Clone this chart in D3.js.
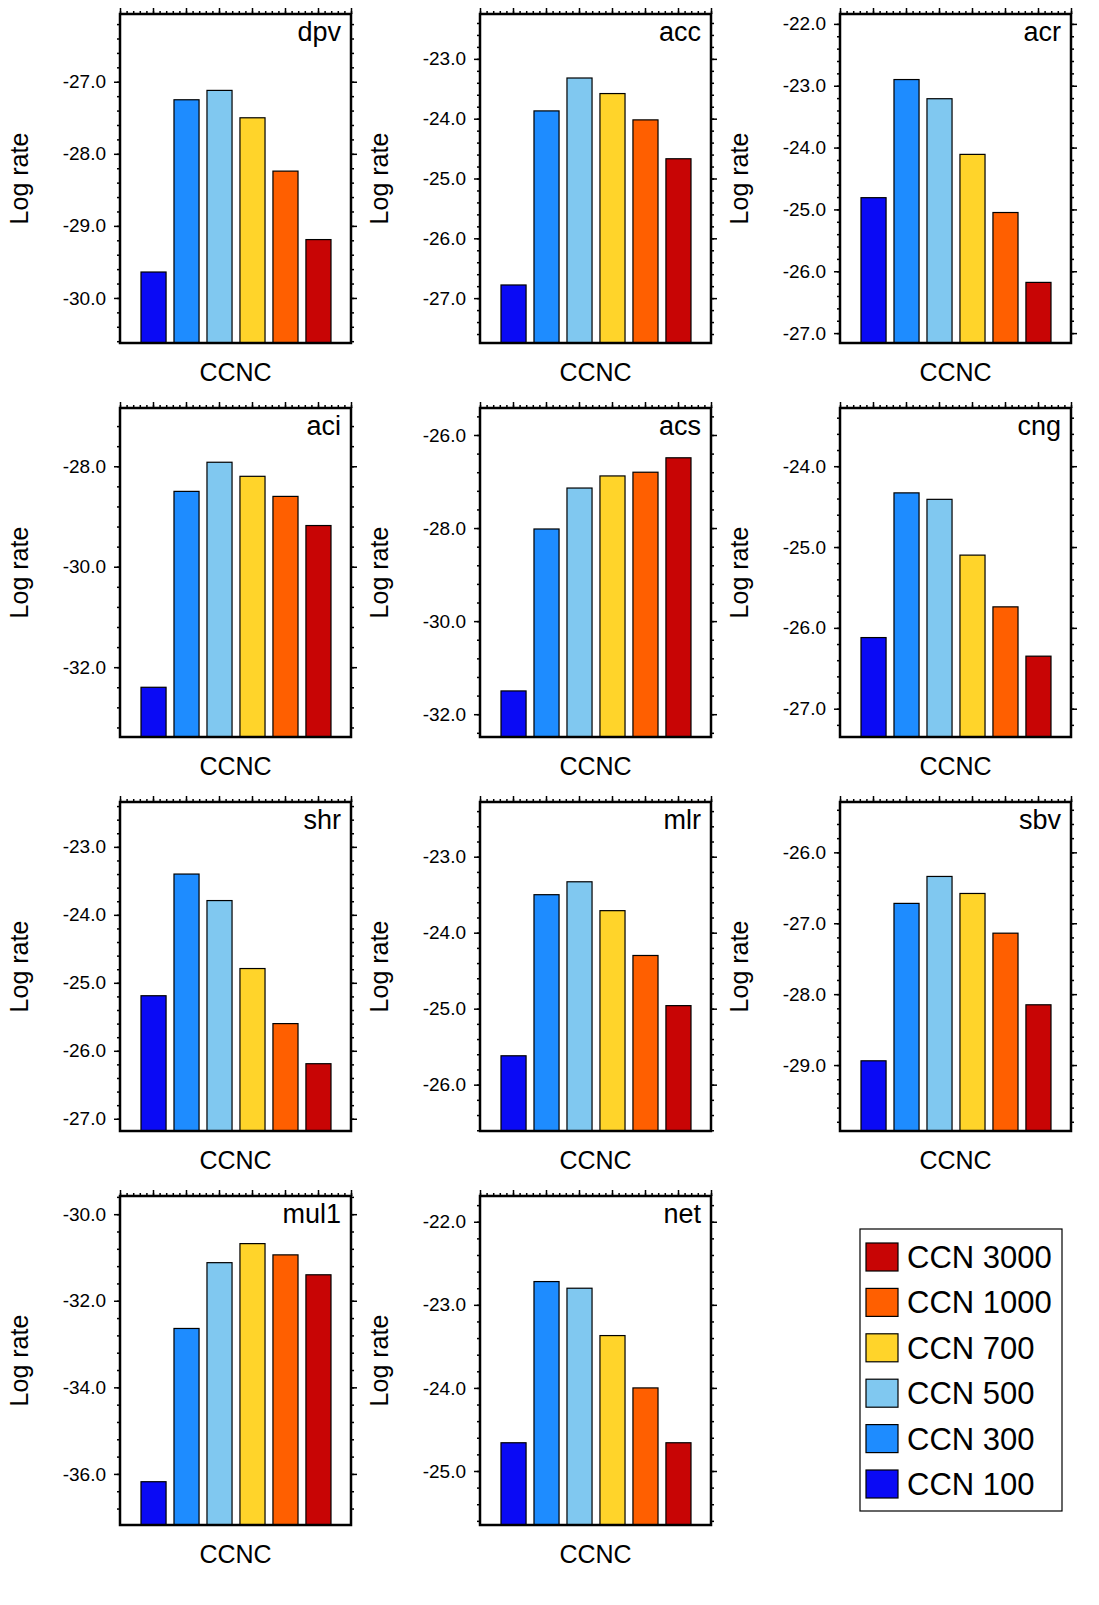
<!DOCTYPE html>
<html><head><meta charset="utf-8">
<script src="https://cdn.jsdelivr.net/npm/d3@7"></script>
<style>body{margin:0;background:#fff}text{font-family:"Liberation Sans",Arial,sans-serif}</style>
</head><body>
<script>
var names = ["dpv", "acc", "acr", "aci", "acs", "cng", "shr", "mlr", "sbv", "mul1", "net"];
var seriesNames = ["CCN 100", "CCN 300", "CCN 500", "CCN 700", "CCN 1000", "CCN 3000"];
var colors = ["#0a0af5", "#1e8cff", "#80c8f0", "#ffd42a", "#ff5f00", "#c80505"];
var values = [
  [-29.64, -27.25, -27.12, -27.5, -28.24, -29.19],
  [-26.78, -23.87, -23.32, -23.58, -24.02, -24.67],
  [-24.81, -22.9, -23.21, -24.11, -25.05, -26.18],
  [-32.4, -28.5, -27.92, -28.2, -28.6, -29.18],
  [-31.5, -28.02, -27.14, -26.88, -26.8, -26.49],
  [-26.12, -24.33, -24.41, -25.1, -25.74, -26.35],
  [-25.19, -23.4, -23.79, -24.79, -25.6, -26.19],
  [-25.62, -23.5, -23.33, -23.71, -24.3, -24.96],
  [-28.94, -26.72, -26.34, -26.58, -27.14, -28.15],
  [-36.18, -32.64, -31.12, -30.68, -30.94, -31.4],
  [-24.66, -22.72, -22.8, -23.37, -24.0, -24.66]
];
var yDomains = [
  [-30.625, -26.06], [-27.75, -22.25], [-27.16, -21.84], [-33.39, -26.84],
  [-32.49, -25.42], [-27.35, -23.28], [-27.18, -22.34], [-26.61, -22.28],
  [-29.93, -25.29], [-37.18, -29.58], [-25.65, -21.69]
];
var majorSteps = [1, 1, 1, 2, 2, 1, 1, 1, 1, 2, 1];

var W = 1099, H = 1605;
var pw = 231, ph = 329;
var colX = [120, 480, 840], rowY = [14, 408, 802, 1196];

var svg = d3.select("body").append("svg").attr("width", W).attr("height", H);

names.forEach(function (name, i) {
  var px = colX[i % 3], py = rowY[Math.floor(i / 3)];
  var g = svg.append("g").attr("transform", "translate(" + px + "," + py + ")");
  var y = d3.scaleLinear().domain(yDomains[i]).range([ph, 0]);
  var x = d3.scaleBand().domain(d3.range(6)).range([21, 231 - 20]).paddingInner(0.24).paddingOuter(0);
  var step = majorSteps[i];
  var majors = d3.range(Math.ceil(yDomains[i][0] / step) * step, yDomains[i][1] + 1e-9, step);
  var minors = d3.range(Math.ceil(yDomains[i][0] / (step / 5)) * (step / 5), yDomains[i][1], step / 5);

  g.selectAll("rect.bar").data(values[i]).enter().append("rect")
    .attr("x", function (d, j) { return x(j); })
    .attr("width", x.bandwidth())
    .attr("y", function (d) { return y(d); })
    .attr("height", function (d) { return ph - y(d); })
    .attr("fill", function (d, j) { return colors[j]; })
    .attr("stroke", "#000").attr("stroke-width", 1.2);

  // y axes
  var left = d3.axisLeft(y).tickValues(majors).tickSize(6).tickFormat(d3.format(".1f"));
  var gl = g.append("g").call(left);
  gl.selectAll("text").attr("font-size", 19).attr("x", -14).text(function (d) { return d3.format(".1f")(d).replace("−", "-"); });
  g.append("g").call(d3.axisLeft(y).tickValues(minors).tickSize(3).tickFormat(""));
  g.append("g").attr("transform", "translate(" + pw + ",0)").call(d3.axisRight(y).tickValues(majors).tickSize(6).tickFormat(""));
  g.append("g").attr("transform", "translate(" + pw + ",0)").call(d3.axisRight(y).tickValues(minors).tickSize(3).tickFormat(""));

  // top axis
  var xt = d3.scaleLinear().domain([0, 7]).range([0, pw]);
  g.append("g").call(d3.axisTop(xt).ticks(7).tickSize(6).tickFormat(""));
  g.append("g").call(d3.axisTop(xt).tickValues(d3.range(0, 7.01, 0.2)).tickSize(3).tickFormat(""));
  g.selectAll(".domain").remove();
  g.selectAll(".tick line").attr("stroke-width", 1.5);

  g.append("rect").attr("width", pw).attr("height", ph)
    .attr("fill", "none").attr("stroke", "#000").attr("stroke-width", 2.5);

  g.append("text").attr("x", pw - 10).attr("y", 27).attr("text-anchor", "end")
    .attr("font-size", 27).text(name);
  g.append("text").attr("x", pw / 2).attr("y", ph + 38).attr("text-anchor", "middle")
    .attr("font-size", 25).text("CCNC");
  g.append("text").attr("transform", "translate(-92," + (ph / 2) + ") rotate(-90)")
    .attr("text-anchor", "middle").attr("font-size", 25).text("Log rate");
});

// legend
var lg = svg.append("g").attr("transform", "translate(860,1229)");
lg.append("rect").attr("width", 202).attr("height", 282).attr("fill", "#fff")
  .attr("stroke", "#000").attr("stroke-width", 1.2);
var order = d3.range(6).reverse();
order.forEach(function (j, k) {
  var cy = 28 + k * 45.4;
  lg.append("rect").attr("x", 6).attr("y", cy - 14).attr("width", 32).attr("height", 28)
    .attr("fill", colors[j]).attr("stroke", "#000").attr("stroke-width", 1.2);
  lg.append("text").attr("x", 47).attr("y", cy + 11).attr("font-size", 31).text(seriesNames[j]);
});
</script>
</body></html>
